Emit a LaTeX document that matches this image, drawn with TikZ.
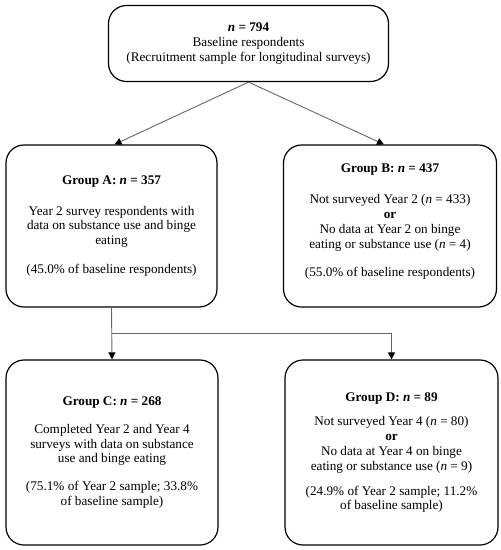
\documentclass[tikz,border=0pt]{standalone}
\usepackage{fontspec}
\setmainfont{Liberation Serif}
\usetikzlibrary{arrows.meta}
\begin{document}
\begin{tikzpicture}[x=1pt,y=-1pt,
  box/.style={draw=black,line width=1.2pt,rounded corners=18pt,align=center,
    inner sep=0pt,font=\fontsize{13.2}{14.8}\selectfont},
  conn/.style={draw=black!60,line width=0.9pt},
  arr/.style={conn,-{Triangle[length=7pt,width=7pt,color=black]}}
]
\useasboundingbox (0,0) rectangle (501,550);
\node[box,minimum width=280pt,minimum height=76pt] (top) at (248.5,43.5)
  {\textbf{\textit{n} = 794}\\Baseline respondents\\(Recruitment sample for longitudinal surveys)};
\node[box,minimum width=211pt,minimum height=162pt] (A) at (111.5,226)
  {\textbf{Group A: \textit{n} = 357}\\[16pt]Year 2 survey respondents with\\data on substance use and binge\\eating\\[14pt](45.0\% of baseline respondents)};
\node[box,minimum width=213pt,minimum height=162pt] (B) at (390,226)
  {\textbf{Group B: \textit{n} = 437}\\[16pt]Not surveyed Year 2 (\textit{n} = 433)\\\textbf{or}\\No data at Year 2 on binge\\eating or substance use (\textit{n} = 4)\\[14pt](55.0\% of baseline respondents)\\[-4pt]\mbox{}};
\node[box,minimum width=212pt,minimum height=185pt] (C) at (112,452.5)
  {\textbf{Group C: \textit{n} = 268}\\[13pt]Completed Year 2 and Year 4\\surveys with data on substance\\use and binge eating\\[13pt](75.1\% of Year 2 sample; 33.8\%\\of baseline sample)};
\node[box,minimum width=213pt,minimum height=185pt] (D) at (391.5,452.5)
  {\textbf{Group D: \textit{n} = 89}\\[10pt]Not surveyed Year 4 (\textit{n} = 80)\\\textbf{or}\\No data at Year 4 on binge\\eating or substance use (\textit{n} = 9)\\[10pt](24.9\% of Year 2 sample; 11.2\%\\of baseline sample)};
\coordinate (br) at (111.5,333);
\draw[arr] (top.south) -- ([xshift=3pt]A.north);
\draw[arr] (top.south) -- ([xshift=-6pt]B.north);
\draw[arr] (A.south) -- (C.north);
\draw[arr] (br) -| (D.north);
\end{tikzpicture}
\end{document}
